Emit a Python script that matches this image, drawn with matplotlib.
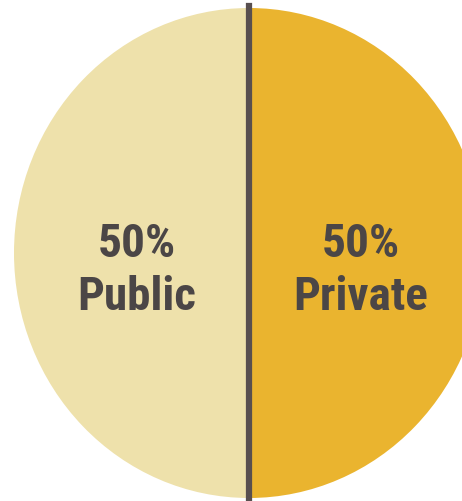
import matplotlib
matplotlib.use("Agg")
import matplotlib.pyplot as plt

# ---------------- data ----------------
labels = ["Public", "Private"]
values = [50, 50]
colors = ["#EEE1AB", "#EAB42F"]

# ---------------- figure ----------------
fig = plt.figure(figsize=(4.62, 5.01), dpi=100)
ax = fig.add_axes([0, 0, 1, 1])

wedges, _ = ax.pie(values, colors=colors, startangle=90, counterclock=True,
                   radius=1.0, wedgeprops=dict(linewidth=0))

# stretch into the slightly tall ellipse of the reference
ax.set_aspect("auto")
ax.set_xlim(-249 / 235, (462 - 249) / 235)
ax.set_ylim(-(501 - 253) / 245, 253 / 245)
ax.axis("off")

# divider line
ax.axvline(0, ymin=0, ymax=1 - 6 / 501, color="#584F4F", linewidth=4.5)

font = ["Roboto Condensed", "DejaVu Sans"]
txt_x = [-0.477, 0.477]
for x, lab, v in zip(txt_x, labels, values):
    ax.text(x, -0.016, f"{v}%", ha="center", va="baseline", fontsize=34,
            fontweight="bold", color="#4B4646", family=font)
    ax.text(x, -0.233, lab, ha="center", va="baseline", fontsize=34,
            fontweight="bold", color="#4B4646", family=font)

fig.savefig("out.png", dpi=100, facecolor="white")
